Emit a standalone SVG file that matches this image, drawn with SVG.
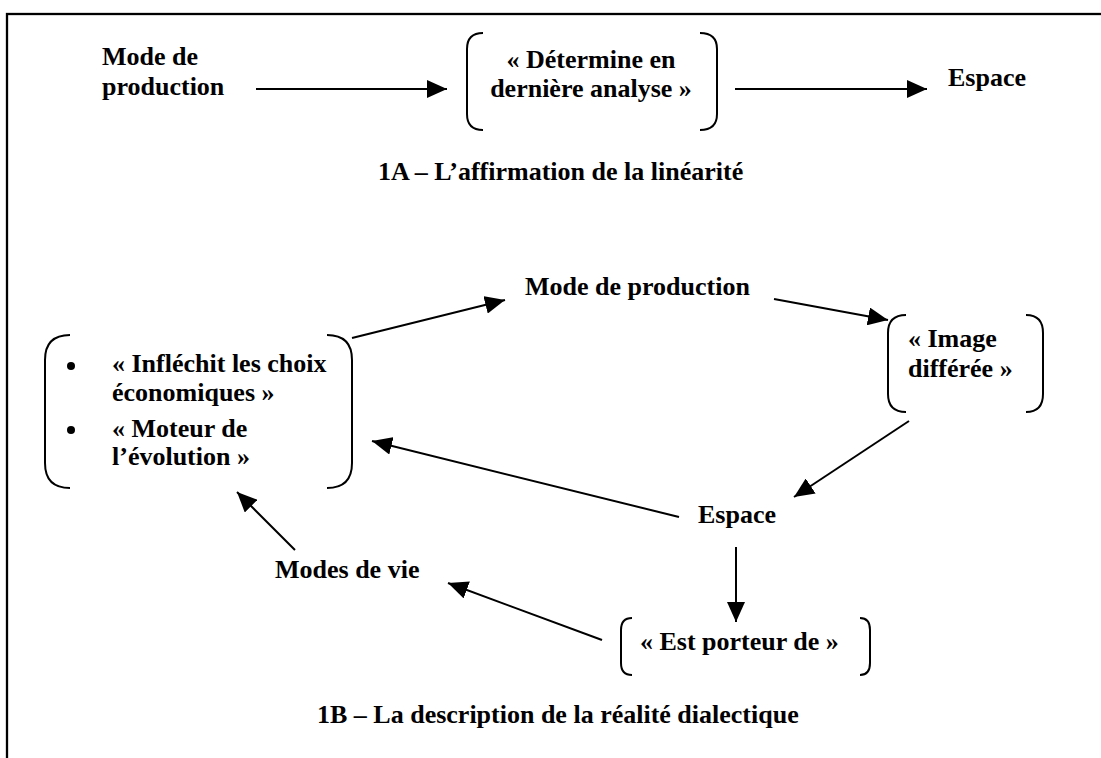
<svg xmlns="http://www.w3.org/2000/svg" width="1101" height="758" viewBox="0 0 1101 758">
<defs>
<style>
text{font-family:"Liberation Serif","Times New Roman",serif;font-weight:bold;font-size:26px;fill:#000}
.br{fill:none;stroke:#000;stroke-width:2}
.cn{fill:none;stroke:#000;stroke-width:2;marker-end:url(#ah)}
</style>
<marker id="ah" viewBox="0 0 20 18" refX="20" refY="9" markerWidth="20" markerHeight="18" markerUnits="userSpaceOnUse" orient="auto">
<path d="M0,0 L20,9 L0,18 Z" fill="#000"/>
</marker>
</defs>
<rect x="0" y="0" width="1101" height="758" fill="#fff"/>
<rect x="7" y="14" width="1100" height="760" fill="none" stroke="#000" stroke-width="2.3"/>

<g id="top-mode">
<text x="102" y="65">Mode de</text>
<text x="102" y="95">production</text>
</g>
<g id="top-determine">
<path class="br" d="M483,33 Q467,33 467,49 V114 Q467,130 483,130"/>
<path class="br" d="M700,33 Q717,33 717,49 V114 Q717,130 700,130"/>
<text x="591" y="68" text-anchor="middle">« Détermine en</text>
<text x="591" y="97" text-anchor="middle">dernière analyse »</text>
</g>
<g id="top-espace">
<text x="948" y="86">Espace</text>
</g>
<g id="caption-1a">
<text x="378" y="180">1A – L’affirmation de la linéarité</text>
</g>

<g id="mode-production">
<text x="525" y="295">Mode de production</text>
</g>
<g id="infléchit">
<path class="br" d="M70,335 Q45,335 45,360 V463 Q45,488 70,488"/>
<path class="br" d="M327,335 Q352,335 352,360 V463 Q352,488 327,488"/>
<circle cx="71" cy="366" r="4"/>
<circle cx="71" cy="430" r="4"/>
<text x="112" y="372">« Infléchit les choix</text>
<text x="112" y="401">économiques »</text>
<text x="112" y="437">« Moteur de</text>
<text x="112" y="465">l’évolution »</text>
</g>
<g id="image-differee">
<path class="br" d="M906,315 Q888,315 888,333 V394 Q888,412 906,412"/>
<path class="br" d="M1026,315 Q1043,315 1043,333 V394 Q1043,412 1026,412"/>
<text x="908" y="347">« Image</text>
<text x="908" y="377">différée »</text>
</g>
<g id="espace">
<text x="698" y="523">Espace</text>
</g>
<g id="est-porteur">
<path class="br" d="M632,618 Q621,618 621,630 V663 Q621,675 632,675"/>
<path class="br" d="M860,618 Q870,618 870,630 V663 Q870,675 860,675"/>
<text x="640" y="650">« Est porteur de »</text>
</g>
<g id="modes-de-vie">
<text x="275" y="578">Modes de vie</text>
</g>
<g id="caption-1b">
<text x="317" y="723">1B – La description de la réalité dialectique</text>
</g>

<g id="connectors">
<line class="cn" x1="256" y1="89" x2="447" y2="89"/>
<line class="cn" x1="735" y1="89" x2="927" y2="89"/>
<line class="cn" x1="352" y1="338" x2="505" y2="300"/>
<line class="cn" x1="774" y1="299" x2="888" y2="320"/>
<line class="cn" x1="909" y1="421" x2="794" y2="497"/>
<line class="cn" x1="679" y1="517" x2="372" y2="441"/>
<line class="cn" x1="736" y1="547" x2="736" y2="622"/>
<line class="cn" x1="602" y1="640" x2="448" y2="583"/>
<line class="cn" x1="295" y1="550" x2="237" y2="492"/>
</g>
</svg>
